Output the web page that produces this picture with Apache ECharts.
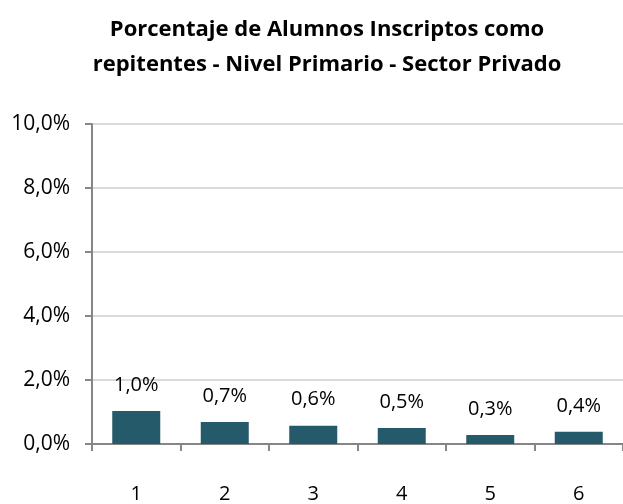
<!DOCTYPE html>
<html><head><meta charset="utf-8">
<script src="https://cdn.jsdelivr.net/npm/echarts@6/dist/echarts.min.js"></script>
<style>html,body{margin:0;padding:0;background:#fff}#c{width:623px;height:504px}</style>
</head><body><div id="c"></div>
<script>
const categories = ['1','2','3','4','5','6'];
const values = [1.03, 0.69, 0.57, 0.5, 0.28, 0.38];
const valueLabels = ['1,0%','0,7%','0,6%','0,5%','0,3%','0,4%'];
const titleLines = ['Porcentaje de Alumnos Inscriptos como', 'repitentes - Nivel Primario - Sector Privado'];

const chart = echarts.init(document.getElementById('c'));
const font = 'Open Sans';
chart.setOption({
  animation: false,
  title: {
    text: titleLines.join('\n'),
    left: 322, top: 7, textAlign: 'center',
    textStyle: { fontFamily: font, fontWeight: 'bold', fontSize: 22, lineHeight: 35, color: '#000' }
  },
  grid: { left: 92, right: -2, top: 124, bottom: 60, containLabel: false },
  xAxis: {
    type: 'category', data: categories,
    axisLine: { lineStyle: { color: '#868686', width: 2 } },
    axisTick: { show: true, length: 7, lineStyle: { color: '#868686', width: 2 } },
    axisLabel: { fontFamily: font, fontSize: 20, color: '#000', margin: 40 }
  },
  yAxis: {
    type: 'value', min: 0, max: 10, interval: 2,
    axisLine: { show: true, lineStyle: { color: '#868686', width: 2 } },
    axisTick: { show: true, length: 7, lineStyle: { color: '#868686', width: 2 } },
    splitLine: { lineStyle: { color: '#d9d9d9', width: 2 } },
    axisLabel: { fontFamily: font, fontSize: 21, color: '#000', margin: 22,
      formatter: v => v.toFixed(1).replace('.', ',') + '%' }
  },
  series: [{
    type: 'bar', data: values, barWidth: 48,
    itemStyle: { color: '#245a69' },
    label: { show: true, position: 'top', distance: 16, fontFamily: font, fontSize: 20, color: '#000',
      formatter: p => valueLabels[p.dataIndex] }
  }]
});
</script></body></html>
